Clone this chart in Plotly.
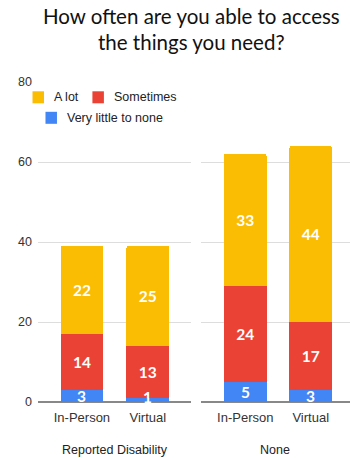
import plotly.graph_objects as go

groups = ["Reported Disability", "None"]
modes = ["In-Person", "Virtual"]
very_little = [[3, 1], [5, 3]]
sometimes = [[14, 13], [24, 17]]
a_lot = [[22, 25], [33, 44]]
y_ticks = [0, 20, 40, 60, 80]
title_lines = ["How often are you able to access", "the things you need?"]

C_ALOT = "#FBBC04"
C_SOME = "#EA4335"
C_LITTLE = "#4285F4"

W, H = 350, 458
ml, mr, mt, mb = 37.5, 0, 81.7, 56.3
pw = W - ml - mr
ph = H - mt - mb
d1 = [0, (191 - ml) / pw]
d2 = [(200.5 - ml) / pw, 1]


def px_x(px):
    return (px - ml) / pw


def px_y(py):
    return (H - mb - py) / ph


LABEL_FONT = dict(color="white", size=15.5, family="Lato", weight="bold")

fig = go.Figure()

series = [
    ("Very little to none", very_little, C_LITTLE),
    ("Sometimes", sometimes, C_SOME),
    ("A lot", a_lot, C_ALOT),
]

for gi, g in enumerate(groups):
    xa = "x" if gi == 0 else "x2"
    ya = "y" if gi == 0 else "y2"
    for name, vals, col in series:
        v = vals[gi]
        inbar = name != "Very little to none"
        fig.add_trace(go.Bar(
            x=[0, 1], y=v, name=name, marker_color=col,
            marker_line_width=0,
            text=[str(t) for t in v] if inbar else None,
            textposition="inside" if inbar else "none",
            insidetextanchor="middle", constraintext="none",
            textfont=LABEL_FONT, cliponaxis=False,
            width=0.65, xaxis=xa, yaxis=ya,
            showlegend=False, hoverinfo="skip",
        ))
    # labels for thin bottom segments
    for xi, v in enumerate(very_little[gi]):
        half_px = v * ph / 80 / 2
        fig.add_annotation(text=str(v), x=xi, y=v / 2, xref=xa, yref=ya,
                           showarrow=False, xanchor="center", yanchor="middle",
                           yshift=max(0.0, 5.5 - half_px), font=LABEL_FONT)

axis_common = dict(
    tickmode="array", tickvals=[0, 1], ticktext=modes,
    showgrid=False, zeroline=False, showline=False, ticks="",
    tickfont=dict(family="Arial", size=13, color="#333333"),
    ticklabelstandoff=6, fixedrange=True,
)
yaxis_common = dict(
    range=[0, 80], tickvals=y_ticks, showgrid=True, gridcolor="#DDDDDD",
    gridwidth=1, zeroline=True, zerolinecolor="#888888", zerolinewidth=2,
    showline=False, ticks="", fixedrange=True,
    tickfont=dict(family="Arial", size=12.5, color="#333333"),
)

fig.update_layout(
    width=W, height=H,
    margin=dict(l=ml, r=mr, t=mt, b=mb),
    paper_bgcolor="white", plot_bgcolor="white",
    barmode="stack", barcornerradius=2,
    xaxis=dict(domain=d1, range=[-0.667, 1.66], anchor="y", **axis_common),
    xaxis2=dict(domain=d2, range=[-0.68, 1.60], anchor="y2", **axis_common),
    yaxis=dict(domain=[0, 1], anchor="x", showticklabels=True, ticklabelstandoff=5, **yaxis_common),
    yaxis2=dict(domain=[0, 1], anchor="x2", showticklabels=False, matches="y", **yaxis_common),
    showlegend=False,
    font=dict(family="Arial"),
)

# title (two lines)
for i, line in enumerate(title_lines):
    fig.add_annotation(text=line, xref="paper", yref="paper",
                       x=px_x(191), y=px_y(16 + 25.5 * i), xanchor="center",
                       yanchor="middle", showarrow=False,
                       font=dict(family="Lato", size=20.5, color="#111111"))

# legend
legend_items = [
    ("A lot", C_ALOT, 32, 97),
    ("Sometimes", C_SOME, 92, 97),
    ("Very little to none", C_LITTLE, 45, 117.5),
]
for name, col, sx, cy in legend_items:
    fig.add_shape(type="rect", xref="paper", yref="paper",
                  x0=px_x(sx), x1=px_x(sx + 11.5),
                  y0=px_y(cy - 6), y1=px_y(cy + 6),
                  fillcolor=col, line_width=0)
    fig.add_annotation(text=name, xref="paper", yref="paper",
                       x=px_x(sx + 20), y=px_y(cy), xanchor="left",
                       yanchor="middle", showarrow=False,
                       font=dict(family="Arial", size=12.5, color="#222222"))

for gi, g in enumerate(groups):
    d = d1 if gi == 0 else d2
    fig.add_annotation(text=g, xref="paper", yref="paper",
                       x=(d[0] + d[1]) / 2, y=px_y(450), xanchor="center",
                       yanchor="middle", showarrow=False,
                       font=dict(family="Arial", size=12.5, color="#222222"))

fig.write_html("out.html")
